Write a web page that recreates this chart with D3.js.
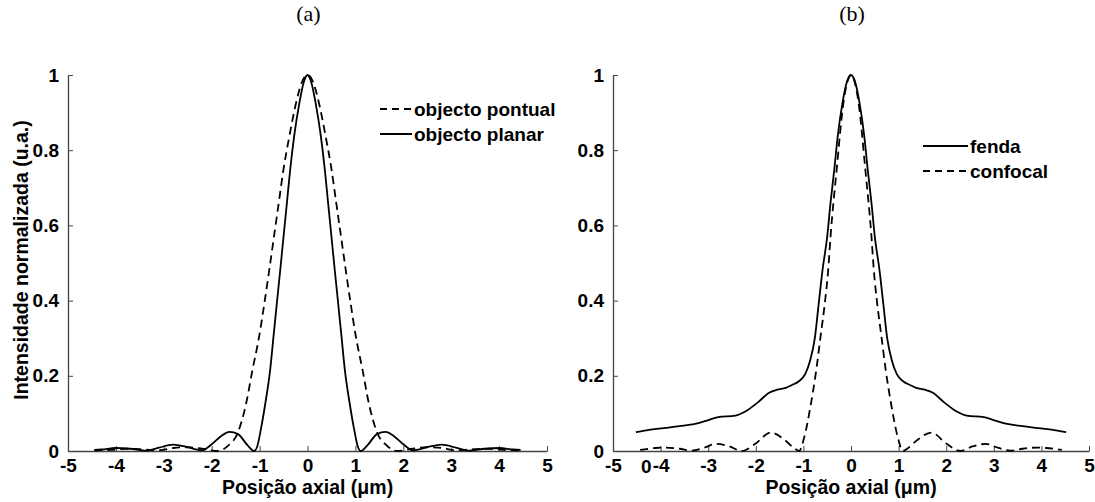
<!DOCTYPE html>
<html><head><meta charset="utf-8">
<script src="https://cdn.jsdelivr.net/npm/d3@7"></script>
<style>
body{margin:0;background:#fff}
svg text{font-family:Arial,"Liberation Sans",sans-serif}
</style>
</head><body>
<svg id="chart" width="1095" height="502"></svg>
<script>
// ---------- data ----------
const xTicks = [-5,-4,-3,-2,-1,0,1,2,3,4,5];
const yTicks = [0,0.2,0.4,0.6,0.8,1];
const yTickLabels = ["0","0.2","0.4","0.6","0.8","1"];
const panelTitles = ["(a)","(b)"];
const xLabel = "Posição axial (\u03bcm)";
const yLabel = "Intensidade normalizada (u.a.)";

// panel (a): objecto pontual (dashed)
const pontualX = [-4.45,-4.1,-3.8,-3.4,-3.1,-2.8,-2.5,-2.2,-1.88,-1.65,-1.46,-1.28,-1.15,-1.01,-0.90,-0.80,-0.70,-0.60,-0.50,-0.38,-0.24,-0.12,0,
                  0.12,0.24,0.38,0.50,0.60,0.70,0.80,0.90,1.01,1.15,1.28,1.46,1.65,1.88,2.2,2.5,2.8,3.1,3.4,3.8,4.1,4.45];
const pontualY = [0.002,0.003,0.006,0.004,0.002,0.008,0.010,0.006,0.0,0.015,0.047,0.127,0.215,0.304,0.393,0.48,0.57,0.66,0.75,0.836,0.925,0.98,1.0,
                  0.98,0.925,0.836,0.75,0.66,0.57,0.48,0.393,0.304,0.215,0.127,0.047,0.015,0.0,0.006,0.010,0.008,0.002,0.004,0.006,0.003,0.002];
// panel (a): objecto planar (solid)
const planarX = [-4.45,-4.3,-4.0,-3.7,-3.35,-3.1,-2.8,-2.5,-2.2,-2.0,-1.8,-1.63,-1.45,-1.25,-1.11,-1.05,-0.97,-0.88,-0.78,-0.71,-0.64,-0.57,-0.50,-0.43,-0.36,-0.28,-0.17,-0.08,0,
                 0.08,0.17,0.28,0.36,0.43,0.50,0.57,0.64,0.71,0.78,0.88,0.97,1.05,1.11,1.25,1.45,1.63,1.8,2.0,2.2,2.5,2.8,3.1,3.35,3.7,4.0,4.3,4.45];
const planarY = [0.003,0.004,0.008,0.006,0.001,0.009,0.017,0.010,0.002,0.018,0.040,0.051,0.045,0.015,0.0,0.012,0.06,0.127,0.215,0.304,0.393,0.48,0.57,0.66,0.75,0.836,0.925,0.98,1.0,
                 0.98,0.925,0.836,0.75,0.66,0.57,0.48,0.393,0.304,0.215,0.127,0.06,0.012,0.0,0.015,0.045,0.051,0.040,0.018,0.002,0.010,0.017,0.009,0.001,0.006,0.008,0.004,0.003];

// panel (b): fenda (solid)
const fendaX = [-4.52,-4.3,-3.99,-3.6,-3.28,-3.05,-2.79,-2.43,-2.22,-1.95,-1.72,-1.55,-1.37,-1.25,-1.1,-0.96,-0.86,-0.76,-0.68,-0.60,-0.50,-0.43,-0.35,-0.28,-0.18,-0.09,0,
                0.09,0.18,0.28,0.35,0.43,0.50,0.60,0.68,0.76,0.86,0.96,1.1,1.25,1.37,1.55,1.72,1.95,2.22,2.43,2.79,3.05,3.28,3.6,3.99,4.3,4.52];
const fendaY = [0.05,0.055,0.06,0.066,0.072,0.08,0.09,0.094,0.105,0.13,0.155,0.163,0.168,0.175,0.185,0.205,0.24,0.30,0.39,0.48,0.57,0.66,0.75,0.836,0.925,0.98,1.0,
                0.98,0.925,0.836,0.75,0.66,0.57,0.48,0.39,0.30,0.24,0.205,0.185,0.175,0.168,0.163,0.155,0.13,0.105,0.094,0.09,0.08,0.072,0.066,0.06,0.055,0.05];
// panel (b): confocal (dashed)
const confocalX = [-4.43,-4.1,-3.9,-3.6,-3.35,-3.1,-2.83,-2.55,-2.30,-2.0,-1.69,-1.4,-1.2,-1.09,-0.98,-0.84,-0.73,-0.64,-0.55,-0.48,-0.43,-0.30,-0.16,-0.08,0,
                   0.08,0.16,0.30,0.43,0.48,0.55,0.64,0.73,0.84,0.98,1.09,1.2,1.4,1.69,2.0,2.30,2.55,2.83,3.1,3.35,3.6,3.9,4.1,4.43];
const confocalY = [0.003,0.008,0.009,0.006,0.001,0.008,0.019,0.012,0.0,0.02,0.049,0.03,0.008,0.0,0.038,0.127,0.215,0.304,0.393,0.48,0.57,0.75,0.925,0.98,1.0,
                   0.98,0.925,0.75,0.57,0.48,0.393,0.304,0.215,0.127,0.038,0.0,0.008,0.03,0.049,0.02,0.0,0.012,0.019,0.008,0.001,0.006,0.009,0.008,0.003];

const legendA = ["objecto pontual","objecto planar"];
const legendB = ["fenda","confocal"];
const extraLabelB = "0";

// ---------- drawing ----------
const svg = d3.select("#chart");
const AX = "#444";
const DASH = "8,5";
const FS = 19;

function zip(xs, ys){ return xs.map((v,i)=>({x:v, y:ys[i]})); }

function panel(cfg){
  const x = d3.scaleLinear().domain([-5,5]).range(cfg.xr);
  const y = d3.scaleLinear().domain([0,1]).range([451,75]);
  const g = svg.append("g");

  const xa = g.append("g").attr("transform","translate(0,"+y(0)+")")
    .call(d3.axisBottom(x).tickValues(xTicks).tickSize(-5).tickSizeOuter(0).tickPadding(8));
  const ya = g.append("g").attr("transform","translate("+x(-5)+",0)")
    .call(d3.axisLeft(y).tickValues(yTicks).tickSize(-5).tickSizeOuter(0).tickPadding(9)
      .tickFormat((d,i)=>yTickLabels[i]));
  [xa,ya].forEach(a=>{
    a.select(".domain").attr("stroke",AX).attr("stroke-width",1.3);
    a.selectAll(".tick line").attr("stroke",AX).attr("stroke-width",1);
    a.selectAll("text").attr("fill","#000").attr("font-size",FS).attr("font-weight","bold")
      .attr("font-family","Arial, 'Liberation Sans', sans-serif");
  });
  xa.selectAll("text").text(d=>String(d));

  const line = d3.line().x(d=>x(d.x)).y(d=>y(d.y)).curve(d3.curveMonotoneX);
  cfg.series.forEach(s=>{
    g.append("path").datum(zip(s.xs,s.ys)).attr("d",line)
      .attr("fill","none").attr("stroke","#000").attr("stroke-width",1.8)
      .attr("stroke-dasharray", s.dashed?DASH:null).attr("stroke-linejoin","round");
  });

  // legend
  cfg.legend.forEach((L,i)=>{
    const ly = cfg.legY + i*25;
    g.append("line").attr("x1",cfg.legX).attr("x2",cfg.legX+cfg.legLen).attr("y1",ly).attr("y2",ly)
      .attr("stroke","#000").attr("stroke-width",2).attr("stroke-dasharray",L.dashed?"7,5":null);
    g.append("text").attr("x",cfg.legX+cfg.legLen+2).attr("y",ly+7).text(L.label)
      .attr("font-size",FS).attr("font-weight","bold");
  });

  // title
  g.append("text").attr("x",x(0)+1).attr("y",21).attr("text-anchor","middle")
    .attr("font-size",22)
    .style("font-family","'Liberation Serif','Times New Roman',serif").text(cfg.title);
  // x label
  g.append("text").attr("x",x(0)).attr("y",494).attr("text-anchor","middle")
    .attr("font-size",FS+0.5).attr("font-weight","bold").text(xLabel);
  return {x,y,g};
}

const A = panel({xr:[68,547], title:panelTitles[0],
  series:[{xs:pontualX,ys:pontualY,dashed:true},{xs:planarX,ys:planarY,dashed:false}],
  legend:[{label:legendA[0],dashed:true},{label:legendA[1],dashed:false}],
  legX:380, legLen:32, legY:109});
const B = panel({xr:[613,1089], title:panelTitles[1],
  series:[{xs:fendaX,ys:fendaY,dashed:false},{xs:confocalX,ys:confocalY,dashed:true}],
  legend:[{label:legendB[0],dashed:false},{label:legendB[1],dashed:true}],
  legX:923, legLen:45, legY:146});

// stray label in panel (b)
B.g.append("text").attr("x",B.x(-4.3)).attr("y",B.y(0)+21.5).attr("text-anchor","middle")
  .attr("font-size",FS).attr("font-weight","bold").text(extraLabelB);

// y label
svg.append("text").attr("transform","translate(28,260) rotate(-90)").attr("text-anchor","middle")
  .attr("font-size",FS+0.5).attr("font-weight","bold").text(yLabel);
</script>
</body></html>
